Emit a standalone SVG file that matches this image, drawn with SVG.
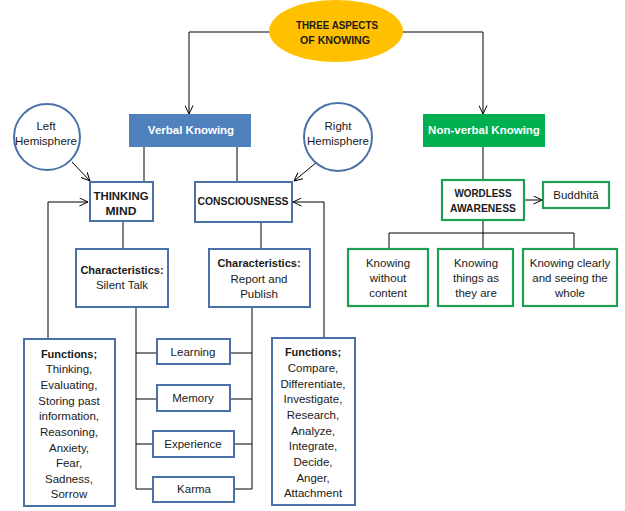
<svg xmlns="http://www.w3.org/2000/svg" width="625" height="511" viewBox="0 0 625 511">
<style>
text{font-family:"Liberation Sans",Arial,sans-serif;font-size:11.5px;fill:#1a1a1a;text-anchor:middle;dominant-baseline:central}
.b{font-weight:bold;font-size:11px}
.w{fill:#ffffff;font-weight:bold;font-size:11.5px}
.bx{fill:#ffffff;stroke:#4a72a8;stroke-width:2}
.gx{fill:#ffffff;stroke:#1f9e54;stroke-width:2.2}
.ln{fill:none;stroke:#000000;stroke-width:1}
</style>
<defs>
<marker id="a" viewBox="0 0 10 10" refX="9.5" refY="5" markerWidth="9" markerHeight="9" markerUnits="userSpaceOnUse" orient="auto">
<path d="M0,0.5 L9.5,5 L0,9.5" fill="none" stroke="#000" stroke-width="1.1"/>
</marker>
</defs>
<rect width="625" height="511" fill="#ffffff"/>
<g id="connectors">
<path class="ln" d="M270,32 H189 V114" marker-end="url(#a)"/>
<path class="ln" d="M403,32 H483 V114" marker-end="url(#a)"/>
<path class="ln" d="M144,147 V182"/>
<path class="ln" d="M237,147 V182"/>
<path class="ln" d="M72,162 L90,181" marker-end="url(#a)"/>
<path class="ln" d="M317,162 L294,181" marker-end="url(#a)"/>
<path class="ln" d="M48,339 V202 H88" marker-end="url(#a)"/>
<path class="ln" d="M324,338 V202 H293" marker-end="url(#a)"/>
<path class="ln" d="M123,221 V249"/>
<path class="ln" d="M261,222 V249"/>
<path class="ln" d="M136,307 V489 H153"/>
<path class="ln" d="M136,353 H157 M136,399 H157 M136,444 H153"/>
<path class="ln" d="M252,307 V489 H234"/>
<path class="ln" d="M252,353 H230 M252,399 H230 M252,444 H234"/>
<path class="ln" d="M483,147 V180"/>
<path class="ln" d="M524,200 H542" marker-end="url(#a)"/>
<path class="ln" d="M483,220 V249 M389,249 V233 H574 V249"/>
</g>
<g id="n-three"><ellipse cx="336" cy="31" rx="67" ry="31" fill="#ffc000"/><text class="b" x="337" y="25" textLength="82" lengthAdjust="spacingAndGlyphs">THREE ASPECTS</text><text class="b" x="335" y="40" textLength="70" lengthAdjust="spacingAndGlyphs">OF KNOWING</text></g>
<g id="n-verbal"><rect x="129" y="114" width="122" height="33" fill="#4f81bd"/><text class="w" x="191" y="130">Verbal Knowing</text></g>
<g id="n-nonverbal"><rect x="423" y="114" width="122" height="33" fill="#00b050"/><text class="w" x="484" y="130">Non-verbal Knowing</text></g>
<g id="n-left"><circle cx="47" cy="137" r="33" class="bx"/><text x="46" y="126">Left</text><text x="46" y="141">Hemisphere</text></g>
<g id="n-right"><circle cx="338" cy="137" r="34" class="bx"/><text x="338" y="126">Right</text><text x="338" y="141">Hemisphere</text></g>
<g id="n-thinking"><rect x="90" y="182" width="63" height="39" class="bx"/><text class="b" x="121" y="196" textLength="55" lengthAdjust="spacingAndGlyphs">THINKING</text><text class="b" x="121" y="211" textLength="31" lengthAdjust="spacingAndGlyphs">MIND</text></g>
<g id="n-conscious"><rect x="195" y="182" width="97" height="40" class="bx"/><text class="b" x="243" y="201" textLength="91" lengthAdjust="spacingAndGlyphs">CONSCIOUSNESS</text></g>
<g id="n-charleft"><rect x="76" y="249" width="92" height="58" class="bx"/><text class="b" x="122" y="270">Characteristics:</text><text x="122" y="285">Silent Talk</text></g>
<g id="n-charright"><rect x="209" y="249" width="101" height="58" class="bx"/><text class="b" x="259" y="263">Characteristics:</text><text x="259" y="279">Report and</text><text x="259" y="294">Publish</text></g>
<g id="n-learning"><rect x="157" y="339" width="73" height="25" class="bx"/><text x="193" y="352">Learning</text></g>
<g id="n-memory"><rect x="157" y="385" width="73" height="26" class="bx"/><text x="193" y="398">Memory</text></g>
<g id="n-experience"><rect x="153" y="431" width="81" height="26" class="bx"/><text x="193" y="444">Experience</text></g>
<g id="n-karma"><rect x="153" y="477" width="81" height="25" class="bx"/><text x="194" y="489">Karma</text></g>
<g id="n-funcleft"><rect x="24" y="339" width="91" height="167" class="bx"/>
<text class="b" x="69" y="354">Functions;</text>
<text x="69" y="369">Thinking,</text><text x="69" y="385">Evaluating,</text><text x="69" y="401">Storing past</text><text x="69" y="416">information,</text><text x="69" y="432">Reasoning,</text><text x="69" y="448">Anxiety,</text><text x="69" y="463">Fear,</text><text x="69" y="479">Sadness,</text><text x="69" y="494">Sorrow</text></g>
<g id="n-funcright"><rect x="272" y="338" width="83" height="167" class="bx"/>
<text class="b" x="313" y="352">Functions;</text>
<text x="313" y="368">Compare,</text><text x="313" y="384">Differentiate,</text><text x="313" y="399">Investigate,</text><text x="313" y="415">Research,</text><text x="313" y="431">Analyze,</text><text x="313" y="446">Integrate,</text><text x="313" y="462">Decide,</text><text x="313" y="478">Anger,</text><text x="313" y="493">Attachment</text></g>
<g id="n-wordless"><rect x="442" y="180" width="82" height="40" class="gx"/><text class="b" x="483" y="193" textLength="57" lengthAdjust="spacingAndGlyphs">WORDLESS</text><text class="b" x="483" y="208" textLength="66" lengthAdjust="spacingAndGlyphs">AWARENESS</text></g>
<g id="n-buddhita"><rect x="543" y="182" width="66" height="26" class="gx"/><text x="576" y="195">Buddhitā</text></g>
<g id="n-k1"><rect x="348" y="249" width="80" height="57" class="gx"/><text x="388" y="263">Knowing</text><text x="388" y="278">without</text><text x="388" y="293">content</text></g>
<g id="n-k2"><rect x="438" y="249" width="75" height="57" class="gx"/><text x="476" y="263">Knowing</text><text x="476" y="278">things as</text><text x="476" y="293">they are</text></g>
<g id="n-k3"><rect x="523" y="249" width="94" height="57" class="gx"/><text x="570" y="263">Knowing clearly</text><text x="570" y="278">and seeing the</text><text x="570" y="293">whole</text></g>
</svg>
